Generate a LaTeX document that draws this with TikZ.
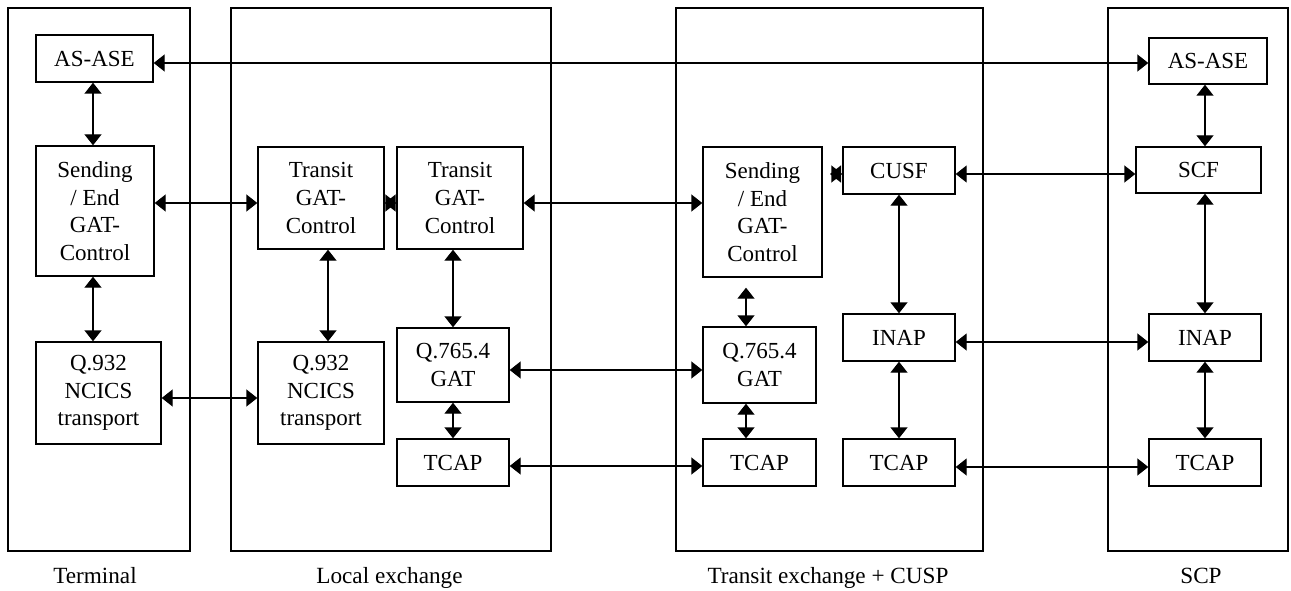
\documentclass[tikz,border=0pt]{standalone}
\usepackage{fontspec}
\setmainfont{Liberation Serif}
\usetikzlibrary{arrows.meta,calc}
\newcommand\mybox[6]{\node[blk,minimum width=#4pt,minimum height=#5pt] (#1) at (#2,#3) {#6};}
\begin{document}
\begin{tikzpicture}[x=1pt,y=-1pt,
  blk/.style={draw, line width=1.4pt, inner sep=0pt, align=center, font=\fontsize{23}{27.6}\selectfont},
  frame/.style={draw, line width=1.4pt, inner sep=0pt},
  lbl/.style={anchor=base, inner sep=0pt, font=\fontsize{23.2}{27.6}\selectfont},
  arr/.style={line width=1.4pt, {Triangle[length=11pt,width=17pt]}-{Triangle[length=11pt,width=17pt]}}]
\useasboundingbox (0,0) rectangle (1291,591);
% outer frames
\node[frame, minimum width=182pt, minimum height=543pt] (term) at (99,279.5) {};
\node[frame, minimum width=320pt, minimum height=543pt] (local) at (391,279.5) {};
\node[frame, minimum width=307pt, minimum height=543pt] (trans) at (829.5,279.5) {};
\node[frame, minimum width=180pt, minimum height=543pt] (scp) at (1198,279.5) {};
\node[lbl] (lterm) at (95,583) {Terminal};
\node[lbl] (llocal) at (389.5,583) {Local exchange};
\node[lbl] (ltrans) at (828,583) {Transit exchange + CUSP};
\node[lbl] (lscp) at (1201,583) {SCP};
% inner boxes
\mybox{aseL}{94.5}{58.5}{117}{47}{AS-ASE}
\mybox{sendL}{95}{211}{118}{130}{Sending\\/ End\\GAT-\\Control}
\mybox{qL}{98.5}{393}{125}{102}{Q.932\\NCICS\\transport}
\mybox{tr1}{321}{198}{126}{102}{Transit\\GAT-\\Control}
\mybox{tr2}{460}{198}{126}{102}{Transit\\GAT-\\Control}
\mybox{qLoc}{321}{393}{126}{102}{Q.932\\NCICS\\transport}
\mybox{gatL}{453}{365}{112}{74}{Q.765.4\\GAT}
\mybox{tcL}{453}{462.5}{112}{47}{TCAP}
\mybox{sendT}{762.5}{212}{119}{130}{Sending\\/ End\\GAT-\\Control}
\mybox{cusf}{899}{170.5}{112}{47}{CUSF}
\mybox{gatT}{759.5}{365}{113}{76}{Q.765.4\\GAT}
\mybox{tcT}{759.5}{462.5}{113}{47}{TCAP}
\mybox{inapT}{899}{337.5}{112}{47}{INAP}
\mybox{tcTb}{899}{462.5}{112}{47}{TCAP}
\mybox{aseR}{1208}{61}{118}{46}{AS-ASE}
\mybox{scf}{1198.5}{170}{125}{46}{SCF}
\mybox{inapR}{1205}{337.5}{112}{47}{INAP}
\mybox{tcR}{1205}{462.5}{112}{47}{TCAP}
% level coordinates
\coordinate (yA) at (0,63);
\coordinate (yB) at (0,203);
\coordinate (yC) at (0,174);
\coordinate (yQ) at (0,398);
\coordinate (yG) at (0,370);
\coordinate (yT) at (0,466);
\coordinate (yI) at (0,342);
\coordinate (yTb) at (0,467);
\coordinate (xL) at (93,0);
\coordinate (xq) at (328,0);
\coordinate (xg) at (746,0);
\coordinate (xc) at (830,0);
\coordinate (xs) at (1205,0);
% horizontal connectors
\draw[arr] (aseL.east |- yA) -- (aseR.west |- yA);
\draw[arr] (sendL.east |- yB) -- (tr1.west |- yB);
\draw[arr] (tr1.east |- yB) -- (tr2.west |- yB);
\draw[arr] (tr2.east |- yB) -- (sendT.west |- yB);
\draw[arr] (xc |- yC) -- (cusf.west |- yC);
\draw[arr] (cusf.east |- yC) -- (scf.west |- yC);
\draw[arr] (qL.east |- yQ) -- (qLoc.west |- yQ);
\draw[arr] (gatL.east |- yG) -- (gatT.west |- yG);
\draw[arr] (tcL.east |- yT) -- (tcT.west |- yT);
\draw[arr] (inapT.east |- yI) -- (inapR.west |- yI);
\draw[arr] (tcTb.east |- yTb) -- (tcR.west |- yTb);
% vertical connectors
\draw[arr] (aseL.south -| xL) -- (sendL.north -| xL);
\draw[arr] (sendL.south -| xL) -- (qL.north -| xL);
\draw[arr] (tr1.south -| xq) -- (qLoc.north -| xq);
\draw[arr] (tr2.south -| gatL.north) -- (gatL.north);
\draw[arr] (gatL.south) -- (tcL.north);
\draw[arr] ($(sendT.south -| xg)+(0,10)$) -- (gatT.north -| xg);
\draw[arr] (gatT.south -| xg) -- (tcT.north -| xg);
\draw[arr] (cusf.south) -- (inapT.north);
\draw[arr] (inapT.south) -- (tcTb.north);
\draw[arr] (aseR.south -| xs) -- (scf.north -| xs);
\draw[arr] (scf.south -| xs) -- (inapR.north);
\draw[arr] (inapR.south) -- (tcR.north);
\end{tikzpicture}
\end{document}
